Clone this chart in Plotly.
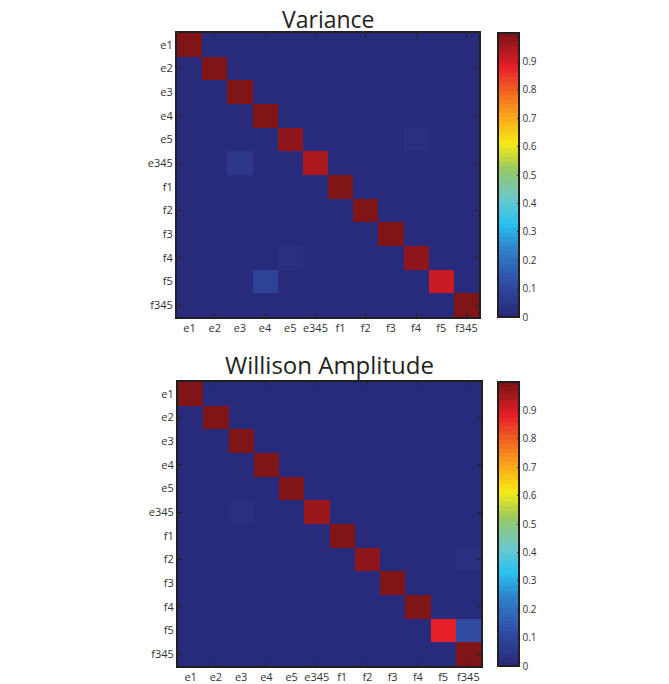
import plotly.graph_objects as go

labels = ["e1", "e2", "e3", "e4", "e5", "e345", "f1", "f2", "f3", "f4", "f5", "f345"]

# Variance confusion matrix (rows = true class, cols = predicted)
variance = [
    [1.00, 0, 0, 0, 0, 0, 0, 0, 0, 0, 0, 0],
    [0, 1.00, 0, 0, 0, 0, 0, 0, 0, 0, 0, 0],
    [0, 0, 1.00, 0, 0, 0, 0, 0, 0, 0, 0, 0],
    [0, 0, 0, 1.00, 0, 0, 0, 0, 0, 0, 0, 0],
    [0, 0, 0, 0, 0.97, 0, 0, 0, 0, 0.03, 0, 0],
    [0, 0, 0.06, 0, 0, 0.94, 0, 0, 0, 0, 0, 0],
    [0, 0, 0, 0, 0, 0, 1.00, 0, 0, 0, 0, 0],
    [0, 0, 0, 0, 0, 0, 0, 1.00, 0, 0, 0, 0],
    [0, 0, 0, 0, 0, 0, 0, 0, 1.00, 0, 0, 0],
    [0, 0, 0, 0, 0.03, 0, 0, 0, 0, 0.97, 0, 0],
    [0, 0, 0, 0.09, 0, 0, 0, 0, 0, 0, 0.91, 0],
    [0, 0, 0, 0, 0, 0, 0, 0, 0, 0, 0, 1.00],
]

# Willison Amplitude confusion matrix
willison = [
    [1.00, 0, 0, 0, 0, 0, 0, 0, 0, 0, 0, 0],
    [0, 1.00, 0, 0, 0, 0, 0, 0, 0, 0, 0, 0],
    [0, 0, 1.00, 0, 0, 0, 0, 0, 0, 0, 0, 0],
    [0, 0, 0, 1.00, 0, 0, 0, 0, 0, 0, 0, 0],
    [0, 0, 0, 0, 1.00, 0, 0, 0, 0, 0, 0, 0],
    [0, 0, 0.03, 0, 0, 0.96, 0, 0, 0, 0, 0, 0],
    [0, 0, 0, 0, 0, 0, 1.00, 0, 0, 0, 0, 0],
    [0, 0, 0, 0, 0, 0, 0, 0.97, 0, 0, 0, 0.03],
    [0, 0, 0, 0, 0, 0, 0, 0, 1.00, 0, 0, 0],
    [0, 0, 0, 0, 0, 0, 0, 0, 0, 1.00, 0, 0],
    [0, 0, 0, 0, 0, 0, 0, 0, 0, 0, 0.88, 0.12],
    [0, 0, 0, 0, 0, 0, 0, 0, 0, 0, 0, 1.00],
]

titles = ["Variance", "Willison Amplitude"]
cbar_ticks = [0, 0.1, 0.2, 0.3, 0.4, 0.5, 0.6, 0.7, 0.8, 0.9]

# washed "jet" key colours, stepped into 64 levels like MATLAB's colormap
keys = [
    (0.000, (40, 40, 120)),
    (0.125, (48, 78, 165)),
    (0.250, (48, 135, 205)),
    (0.330, (40, 195, 240)),
    (0.420, (110, 200, 200)),
    (0.520, (150, 200, 100)),
    (0.610, (245, 235, 20)),
    (0.700, (250, 170, 25)),
    (0.800, (240, 95, 35)),
    (0.880, (232, 30, 40)),
    (1.000, (120, 20, 22)),
]


def interp(t):
    for (t0, c0), (t1, c1) in zip(keys[:-1], keys[1:]):
        if t0 <= t <= t1:
            f = (t - t0) / (t1 - t0) if t1 > t0 else 0
            return tuple(round(a + (b - a) * f) for a, b in zip(c0, c1))
    return keys[-1][1]


N = 64
colorscale = []
for i in range(N):
    c = interp((i + 0.5) / N)
    col = "rgb(%d,%d,%d)" % c
    colorscale.append([i / N, col])
    colorscale.append([(i + 1) / N, col])

W, H = 669, 684
panels = [
    dict(x0=177, x1=479, y0=33, y1=317, ty=19),
    dict(x0=178, x1=481, y0=382, y1=666, ty=365),
]

fig = go.Figure()
font = "Open Sans, Lato, sans-serif"
idx = list(range(12))

for k, (mat, p) in enumerate(zip([variance, willison], panels)):
    n = k + 1
    xa = "x" if n == 1 else "x%d" % n
    ya = "y" if n == 1 else "y%d" % n
    fig.add_trace(go.Heatmap(
        z=mat, x=idx, y=idx, coloraxis="coloraxis" if n == 1 else "coloraxis2",
        xaxis=xa, yaxis=ya, hoverinfo="skip",
    ))
    dom_x = [p["x0"] / W, p["x1"] / W]
    dom_y = [1 - p["y1"] / H, 1 - p["y0"] / H]
    sfx = "" if n == 1 else str(n)
    fig.layout["xaxis" + sfx] = dict(
        domain=dom_x, anchor=ya, range=[-0.5, 11.5], tickvals=idx, ticktext=labels,
        ticks="", showline=True, mirror=True, linecolor="#231f20", linewidth=2,
        showgrid=False, zeroline=False, tickfont=dict(size=11, color="#333"),
    )
    fig.layout["yaxis" + sfx] = dict(
        domain=dom_y, anchor=xa, range=[11.5, -0.5], tickvals=idx, ticktext=labels,
        ticks="", showline=True, mirror=True, linecolor="#231f20", linewidth=2,
        showgrid=False, zeroline=False, tickfont=dict(size=11, color="#333"),
    )
    # overlay axes carrying MATLAB-style inside tick marks on every other cell
    on = n + 2
    fig.add_trace(go.Scatter(x=[], y=[], xaxis="x%d" % on, yaxis="y%d" % on,
                             showlegend=False, hoverinfo="skip"))
    even = [1, 3, 5, 7, 9, 11]
    fig.layout["xaxis%d" % on] = dict(
        overlaying=xa, anchor="y%d" % on, range=[-0.5, 11.5], tickvals=even,
        showticklabels=False, ticks="inside", ticklen=4, tickcolor="#231f20",
        showline=False, mirror="ticks", showgrid=False, zeroline=False,
        layer="above traces",
    )
    fig.layout["yaxis%d" % on] = dict(
        overlaying=ya, anchor="x%d" % on, range=[11.5, -0.5], tickvals=even,
        showticklabels=False, ticks="inside", ticklen=4, tickcolor="#231f20",
        showline=False, mirror="ticks", showgrid=False, zeroline=False,
        layer="above traces",
    )
    fig.add_annotation(
        text=titles[k], xref="paper", yref="paper",
        x=(p["x0"] + p["x1"]) / 2 / W, y=1 - p["ty"] / H,
        xanchor="center", yanchor="middle", showarrow=False,
        font=dict(size=23 if n == 1 else 24, color="#231f20", family=font),
    )
    cb = dict(
        x=498 / W, xanchor="left", xref="paper",
        y=1 - (p["y0"] + p["y1"]) / 2 / H, yanchor="middle", yref="paper",
        len=(p["y1"] - p["y0"]) / H, lenmode="fraction",
        thickness=21, thicknessmode="pixels",
        outlinewidth=2, outlinecolor="#231f20",
        tickvals=cbar_ticks, ticktext=[("%g" % v) for v in cbar_ticks],
        ticks="inside", ticklen=3, tickcolor="#231f20",
        tickfont=dict(size=10, color="#333"), xpad=0, ypad=0,
    )
    fig.layout["coloraxis" + sfx] = dict(colorscale=colorscale, cmin=0, cmax=1.0, colorbar=cb)

fig.update_layout(
    width=W, height=H, margin=dict(l=0, r=0, t=0, b=0),
    paper_bgcolor="white", plot_bgcolor="white",
    font=dict(family=font), showlegend=False,
)

fig.write_html("out.html", config={"displayModeBar": False},
               post_script="document.body.style.margin='0';")
